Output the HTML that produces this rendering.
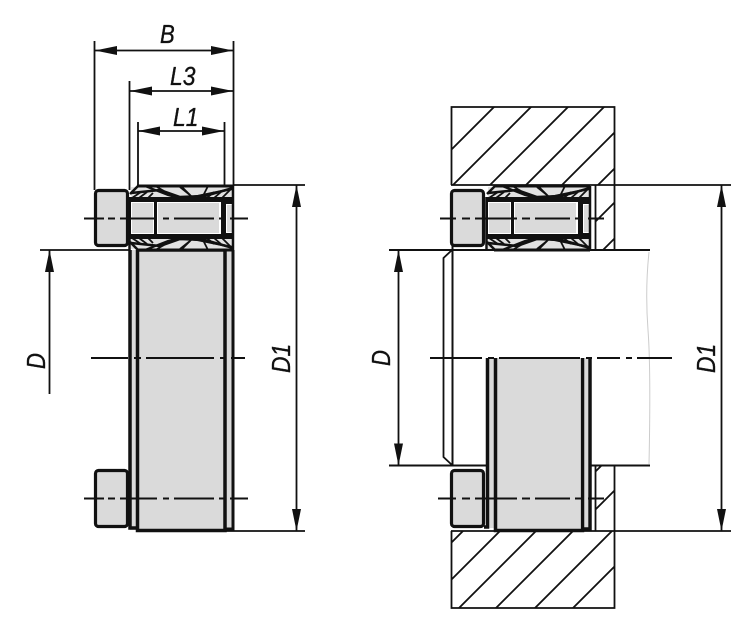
<!DOCTYPE html>
<html><head><meta charset="utf-8"><style>
html,body{margin:0;padding:0;background:#fff}
svg{display:block}
text{font-family:"Liberation Sans",sans-serif;font-style:italic;font-size:26px;fill:#111;stroke:#111;stroke-width:.35}
</style></head><body>
<svg width="750" height="630" viewBox="0 0 750 630" xmlns="http://www.w3.org/2000/svg">
<defs>
<clipPath id="ht"><rect x="451" y="107" width="163" height="78"/></clipPath>
<clipPath id="hb"><rect x="451" y="531" width="163" height="77"/></clipPath>
<clipPath id="hr1"><rect x="596" y="185" width="18" height="65"/></clipPath>
<clipPath id="hr2"><rect x="596" y="466" width="18" height="65"/></clipPath>
<g id="wedge">
<rect x="131" y="187" width="101" height="11" fill="#e2e2e2"/>
<path d="M137 186H233" stroke="#111" stroke-width="3" fill="none"/>
<path d="M138 186L130 194" stroke="#111" stroke-width="2.500" fill="none"/>
<path d="M131 193L160 190L180 197L205 196L233 188" stroke="#111" stroke-width="2.500" fill="none"/>
<path d="M145 186L168 195Q180 199 198 196L232 189" stroke="#111" stroke-width="2.200" fill="none"/>
<path d="M132 198L141 192M139 198L147 192M148 198L153 193M192 197L182 187M202 198L208 186M207 198L214 192M214 198L221 192M222 198L231 189" stroke="#111" stroke-width="1.800" fill="none"/>
<path d="M157 187L164 191M180 187L190 195" stroke="#111" stroke-width="1.800" fill="none"/>
</g>
<g id="assy">
<use href="#wedge"/>
<use href="#wedge" transform="matrix(1 0 0 -1 0 436)"/>
<rect x="129" y="197" width="105" height="42" fill="#111"/>
<rect x="131" y="202" width="23" height="32" fill="#fff"/>
<rect x="132" y="203" width="21" height="30" fill="#dadada"/>
<rect x="157" y="202" width="64" height="32" fill="#fff"/>
<rect x="158" y="203" width="61" height="30" fill="#dadada"/>
<rect x="226" y="204" width="6" height="29" fill="#fff"/>
<rect x="227" y="205" width="5" height="27" fill="#dadada"/>
<path d="M233 186V250M129.500 197V250" stroke="#111" stroke-width="2.500" fill="none"/>
</g>
<g id="bolt1"><rect x="95.500" y="190.500" width="32" height="55" rx="3" fill="#dadada" stroke="#111" stroke-width="3.200"/></g>
<g id="bolt2"><rect x="95.500" y="470.500" width="32" height="56" rx="3" fill="#dadada" stroke="#111" stroke-width="3.200"/></g>
</defs>

<!-- LEFT VIEW -->
<rect x="130" y="250" width="103" height="280" fill="#dadada"/>
<use href="#assy"/>
<use href="#bolt1"/>
<use href="#bolt2"/>
<path d="M130 250V528H137" fill="none" stroke="#111" stroke-width="3.500"/>
<path d="M137.500 250V530.500H225V250" fill="none" stroke="#111" stroke-width="3.500"/>
<path d="M224 529H233V250" fill="none" stroke="#111" stroke-width="3"/>
<path d="M137 250.500H225" stroke="#111" stroke-width="2.500"/>

<!-- left dimension lines -->
<g fill="none" stroke="#111" stroke-width="1.800">
<path d="M94.500 41V190M233.500 41V186M129.500 81V190M138 122V186M224.500 122V186"/>
<path d="M95 50.500H233M129 91H233M138 131H224"/>
<path d="M40 250H130M233 185H305M225 531H305"/>
<path d="M49.500 250V394M296.500 185V531"/>
</g>
<g fill="#111">
<path d="M95 50.500L117 46V55ZM233 50.500L211 46V55Z"/>
<path d="M130 91L152 86.500V95.500ZM233 91L211 86.500V95.500Z"/>
<path d="M138 131L160 126.500V135.500ZM224 131L202 126.500V135.500Z"/>
<path d="M49.500 250L45 272H54Z"/>
<path d="M296.500 185L292 207H301ZM296.500 531L292 509H301Z"/>
</g>

<!-- RIGHT VIEW -->
<g fill="none" stroke="#111" stroke-width="1.800">
<path d="M451.500 185V107H614.500V250M614.500 466V608H451.500V531"/>
<path d="M451 185H590M451 531H590"/>
<path d="M595.500 185V250M595.500 466V531"/>
<g clip-path="url(#ht)"><path d="M643 -42L413 188M680 -42L450 188M717 -42L487 188M753 -42L523 188M789 -42L559 188M825 -42L595 188"/></g>
<g clip-path="url(#hb)"><path d="M464 530L384 610M500 531L420 611M536 531L456 611M573 531L493 611M612 531L532 611M650 531L570 611"/></g>
<g clip-path="url(#hr1)"><path d="M630 187L580 237M630 223L590 263"/></g>
<g clip-path="url(#hr2)"><path d="M630 437L590 477M630 475L590 515"/></g>
</g>
<rect x="489" y="358" width="5" height="170" fill="#dadada"/>
<rect x="497" y="358" width="83" height="171" fill="#dadada"/>
<rect x="584" y="358" width="4" height="170" fill="#dadada"/>
<use href="#assy" x="357"/>
<use href="#bolt1" x="356"/>
<use href="#bolt2" x="356"/>
<g fill="none" stroke="#111">
<path d="M487.500 358V527H484" stroke-width="3.500"/>
<path d="M495.500 358V530.500H582.500V358" stroke-width="3.500"/>
<path d="M582 529H590V358" stroke-width="3.500"/>
<path d="M452.500 246V466" stroke-width="2"/>
<path d="M389 250H650M389 465.500H487M590 465.500H650" stroke-width="2"/>
<path d="M452 250L443.500 258V457L452 465" stroke-width="1.800"/>
<path d="M398.500 250V465.500M721.500 185V531" stroke-width="1.800"/>
<path d="M590 185H731M590 531H731" stroke-width="1.800"/>
<path d="M649 252Q645 290 648 330T649 464" stroke="#ccc" stroke-width="1"/>
</g>
<g fill="#111">
<path d="M398.500 250L394 272H403ZM398.500 465.500L394 443.500H403Z"/>
<path d="M721.500 185L717 207H726ZM721.500 531L717 509H726Z"/>
</g>

<!-- centre lines -->
<g fill="none" stroke="#111" stroke-width="2">
<path d="M91 358H128M134 358H141M146 358H214M220 358H226M231 358H245"/>
<path d="M430 358H482M488 358H494M499 358H580M586 358H592M597 358H620M626 358H632M637 358H672"/>
<path d="M84 218.500H104M108 218.500H115M120 218.500H157M163 218.500H169M174 218.500H214M219 218.500H225M230 218.500H248"/>
<path d="M84 498.500H104M108 498.500H115M120 498.500H157M163 498.500H169M174 498.500H214M219 498.500H225M230 498.500H248"/>
<path d="M440 218.500H456M462 218.500H470M475 218.500H517M522 218.500H530M535 218.500H570M575 218.500H583M588 218.500H604"/>
<path d="M438 498.500H456M462 498.500H470M475 498.500H517M522 498.500H530M535 498.500H570M575 498.500H583M588 498.500H604"/>
</g>

<!-- labels -->
<text transform="translate(160 43) scale(.85 1)">B</text>
<text transform="translate(170 85) scale(.88 1)">L3</text>
<text transform="translate(173 126) scale(.88 1)">L1</text>
<text transform="translate(45 369) rotate(-90) scale(.85 1)">D</text>
<text transform="translate(290 373) rotate(-90) scale(.88 1)">D1</text>
<text transform="translate(390 366) rotate(-90) scale(.85 1)">D</text>
<text transform="translate(715 373) rotate(-90) scale(.88 1)">D1</text>
</svg>
</body></html>
